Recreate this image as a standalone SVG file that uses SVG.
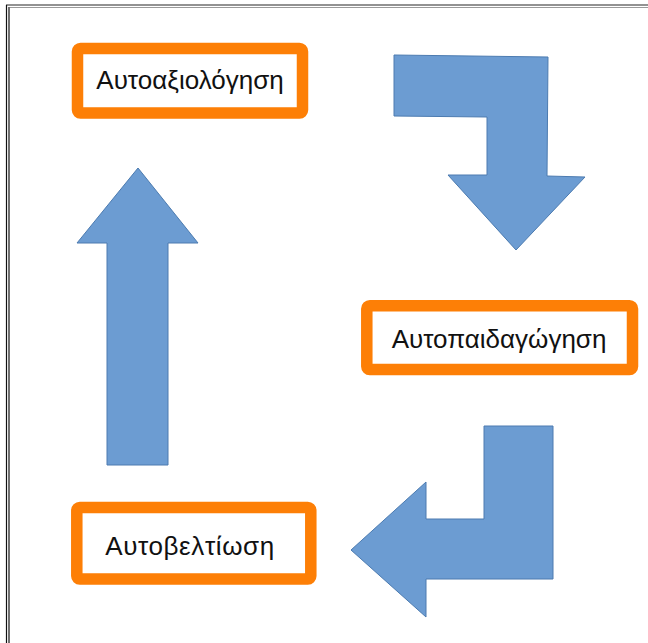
<svg xmlns="http://www.w3.org/2000/svg" width="648" height="643" viewBox="0 0 648 643">
  <style>
    .box { fill: #ffffff; stroke: #fd7f06; stroke-width: 11.5; }
    .label { font-family: "Liberation Sans", Arial, sans-serif; font-size: 26px; fill: #111111; text-anchor: middle; }
    .arrow { fill: #6c9cd2; stroke: #4c7bb0; stroke-width: 1; stroke-linejoin: miter; }
  </style>

  <rect x="0" y="0" width="648" height="643" fill="#ffffff"/>

  <!-- page frame: double rule along the top and left edges -->
  <g id="frame" fill="none">
    <line x1="6" y1="5" x2="648" y2="5" stroke="#6e6e6e" stroke-width="1.5"/>
    <line x1="8" y1="7.5" x2="648" y2="7.5" stroke="#9a9a9a" stroke-width="1.2"/>
    <line x1="6.5" y1="5" x2="6.5" y2="643" stroke="#111111" stroke-width="1.2"/>
    <line x1="9" y1="7.5" x2="9" y2="643" stroke="#111111" stroke-width="1.2"/>
  </g>

  <!-- cycle arrows -->
  <g id="connectors">
    <polygon class="arrow" points="394,55 548,57 547,176 585,177 516,250 448,175 487,175 487,117 394,116"/>
    <polygon class="arrow" points="484,426 553,426 553,579 426,579 426,617 351,550 426,482 426,519 484,519"/>
    <polygon class="arrow" points="138,168 198,243 168,243 168,465 107,465 107,243 77,243"/>
  </g>

  <g id="node-autoaxiologisi">
    <rect class="box" x="77.5" y="48.5" width="225" height="64.5" rx="3"/>
    <text class="label" x="190" y="89">Αυτοαξιολόγηση</text>
  </g>

  <g id="node-autopaidagogisi">
    <rect class="box" x="366.8" y="305.8" width="265.7" height="63.7" rx="3"/>
    <text class="label" x="499" y="348">Αυτοπαιδαγώγηση</text>
  </g>

  <g id="node-autoveltiosi">
    <rect class="box" x="76.8" y="507.5" width="234" height="71.5" rx="3"/>
    <text class="label" x="190" y="555" letter-spacing="0.6">Αυτοβελτίωση</text>
  </g>
</svg>
